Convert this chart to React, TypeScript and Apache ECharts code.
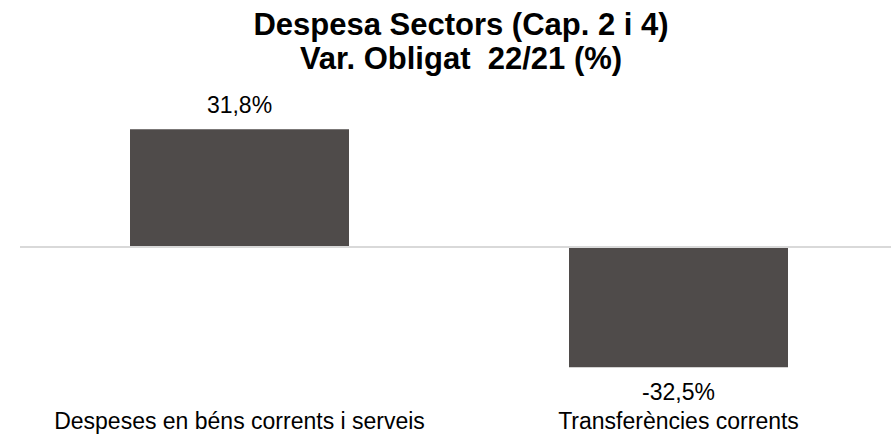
import React, { useEffect, useRef } from "react";
import * as echarts from "echarts";

const categories: string[] = ["Despeses en béns corrents i serveis", "Transferències corrents"];
const values: number[] = [31.8, -32.5];
const titleLines: string[] = ["Despesa Sectors (Cap. 2 i 4)", "Var. Obligat  22/21 (%)"];

const BAR_COLOR = "#4f4b4a";
const FONT = "'Liberation Sans', Arial, sans-serif";

export default function App() {
  const ref = useRef<HTMLDivElement>(null);
  useEffect(() => {
    document.body.style.margin = "0";
    document.body.style.overflow = "hidden";
    if (!ref.current) return;
    const chart = echarts.init(ref.current, undefined, { renderer: "svg" });
    chart.setOption({
      animation: false,
      backgroundColor: "#ffffff",
      title: {
        text: titleLines.join("\n"),
        left: 461,
        textAlign: "center",
        top: 7,
        padding: 0,
        textStyle: {
          fontFamily: FONT,
          fontWeight: "bold",
          fontSize: 31,
          lineHeight: 34,
          color: "#000000",
        },
      },
      grid: { left: 20, right: 0, top: 99, height: 296, containLabel: false },
      xAxis: {
        type: "category",
        data: categories,
        axisLine: { show: false, onZero: false },
        axisTick: { show: false },
        axisLabel: {
          margin: 14,
          fontFamily: FONT,
          fontSize: 23,
          color: "#000000",
          interval: 0,
        },
        splitLine: { show: false },
      },
      yAxis: {
        type: "value",
        min: -40,
        max: 40,
        show: false,
        splitLine: { show: false },
      },
      series: [
        {
          type: "bar",
          barWidth: 219,
          data: values.map((v) => ({
            value: v,
            label: { position: v >= 0 ? "top" : "bottom" },
          })),
          itemStyle: { color: BAR_COLOR },
          label: {
            show: true,
            distance: 13,
            fontFamily: FONT,
            fontSize: 23,
            color: "#000000",
            formatter: (p: any) => p.value.toFixed(1).replace(".", ",") + "%",
          },
          markLine: {
            silent: true,
            symbol: "none",
            label: { show: false },
            lineStyle: { color: "#d9d9d9", width: 2, type: "solid" },
            data: [{ yAxis: 0 }],
          },
        },
      ],
    });
    return () => chart.dispose();
  }, []);
  return (
    <div style={{ width: 891, height: 438, overflow: "hidden" }}>
      <div ref={ref} style={{ width: 898, height: 438 }} />
    </div>
  );
}
